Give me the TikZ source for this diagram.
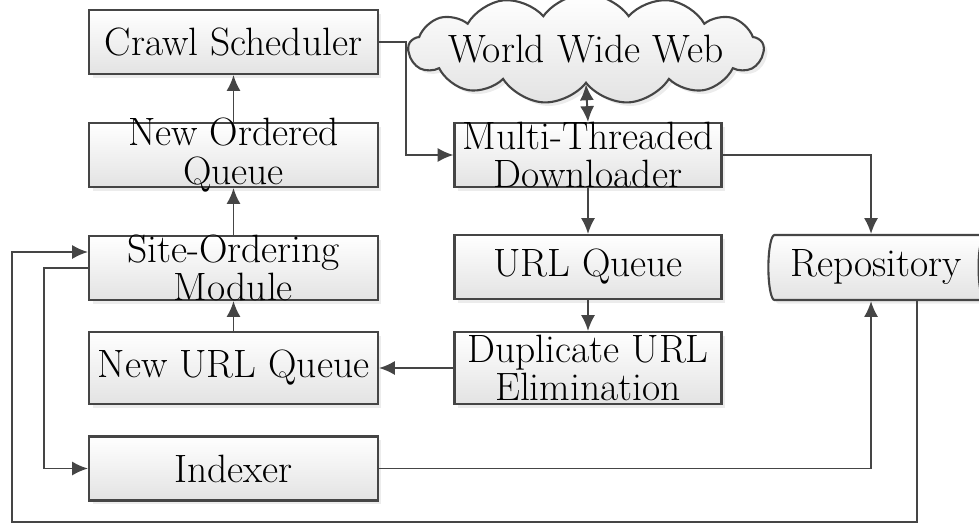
\documentclass[tikz,border=0pt]{standalone}
\usetikzlibrary{shapes.geometric, shapes.symbols, shadows, arrows.meta}

\tikzset{
  txt/.style={font=\fontsize{22.5}{22}\selectfont},
  blk/.style={draw=linec, line width=1.2pt, top color=white, bottom color=gray!22,
    drop shadow={shadow xshift=2pt, shadow yshift=-2pt, fill=gray!30},
    align=center, txt, inner xsep=0pt, inner ysep=-3pt},
  lnk/.style={draw=linec, line width=1.1pt}
}
\definecolor{linec}{HTML}{454545}

\begin{document}
\begin{tikzpicture}[>={Latex[length=9pt,width=8pt]}, x=0.02cm, y=-0.02cm]
        \useasboundingbox (0,0) rectangle (979,525);
        % 1. Cot trai
        \node[blk, minimum width=5.78cm, minimum height=1.28cm] (crawl) at (233.5,42) {Crawl Scheduler};
        \node[blk, minimum width=5.78cm, minimum height=1.28cm] (ordered) at (233.5,155) {New Ordered\\Queue};
        \node[blk, minimum width=5.78cm, minimum height=1.28cm] (site) at (233.5,268) {Site-Ordering\\Module};
        \node[blk, minimum width=5.78cm, minimum height=1.44cm] (newurl) at (233.5,368) {New URL Queue};
        \node[blk, minimum width=5.78cm, minimum height=1.28cm] (indexer) at (233.5,468.5) {Indexer};

        % 2. Cot giua
        \node[blk, cloud, cloud puffs=13, cloud puff arc=110, aspect=3.2, inner sep=0pt,
              minimum width=7.1cm, minimum height=2.2cm,
              label={[txt]center:World Wide Web}] (www) at (586,49) {};
        \node[blk, minimum width=5.34cm, minimum height=1.28cm] (multi) at (588,155) {Multi-Threaded\\Downloader};
        \node[blk, minimum width=5.34cm, minimum height=1.28cm] (urlq) at (588,267) {URL Queue};
        \node[blk, minimum width=5.34cm, minimum height=1.44cm] (dup) at (588,368) {Duplicate URL\\Elimination};

        % 3. Repository
        \node[blk, cylinder, shape border rotate=0, aspect=0.35, inner sep=0pt,
              minimum width=1.3cm, minimum height=4.45cm] (repo) at (876,267.5) {Repository};

        % 4. Cac mui ten
        \draw[lnk, ->] (ordered) -- (crawl);
        \draw[lnk, ->] (site) -- (ordered);
        \draw[lnk, ->] (newurl) -- (site);
        \draw[lnk, ->] (crawl.east) -- ++(27,0) |- (multi.west);
        \draw[lnk, <->] (www.south) -- (multi.north);
        \draw[lnk, ->] (multi.east) -| ([xshift=-0.1cm]repo.north);
        \draw[lnk, ->] (multi) -- (urlq);
        \draw[lnk, ->] (urlq) -- (dup);
        \draw[lnk, ->] (dup) -- (newurl);
        \draw[lnk, ->] (indexer.east) -| ([xshift=-0.1cm]repo.south);

        % 5. Vong phan hoi
        \coordinate (low) at (12,522);
        \draw[lnk, ->] ([xshift=0.82cm]repo.south) |- (low) |- ([yshift=0.32cm]site.west);
        \draw[lnk, ->] (site.west) -- ++(-44,0) |- (indexer.west);
\end{tikzpicture}
\end{document}
